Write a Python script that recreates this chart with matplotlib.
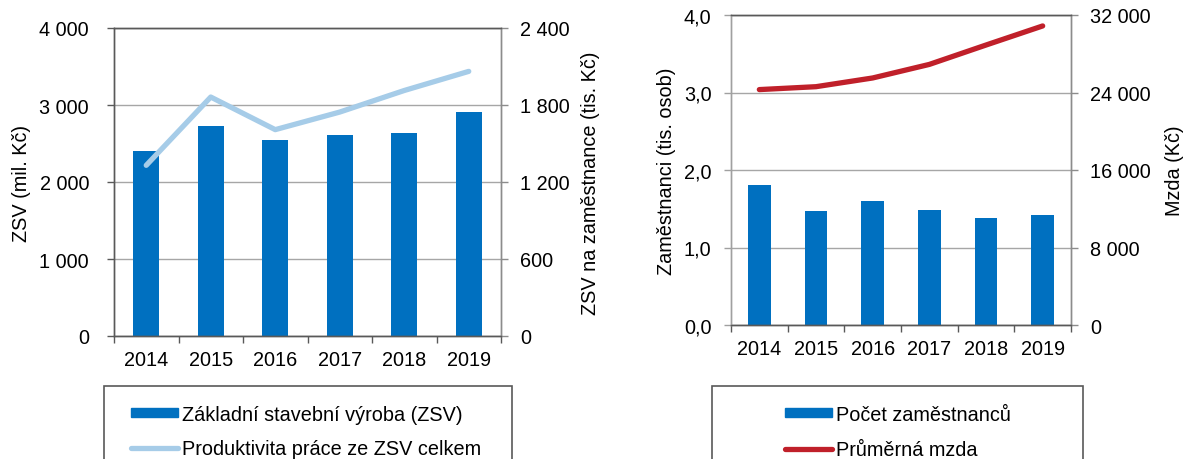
import matplotlib
matplotlib.use("Agg")
import matplotlib.pyplot as plt
from matplotlib.patches import Rectangle
from matplotlib.lines import Line2D
from matplotlib.ticker import FuncFormatter, FixedLocator
import numpy as np

plt.rcParams['font.family'] = ['Liberation Sans', 'DejaVu Sans']
plt.rcParams['font.size'] = 14.3

years = ['2014', '2015', '2016', '2017', '2018', '2019']
zsv = [2400, 2730, 2550, 2615, 2640, 2915]            # mil. Kč
produktivita = [1330, 1862, 1608, 1745, 1913, 2062]   # tis. Kč na zaměstnance
zamestnanci = [1.81, 1.47, 1.60, 1.49, 1.38, 1.42]     # tis. osob
mzda = [24300, 24600, 25500, 26900, 28900, 30870]     # Kč

BAR = '#0070C0'
LBLUE = '#A6CCE8'
RED = '#C0202A'
DARK = '#595959'
GRID = '#A6A6A6'
W, H = 1184, 460

fig = plt.figure(figsize=(W / 100, H / 100), dpi=100)


def thousands(v, pos=None):
    return f"{int(round(v)):,}".replace(',', ' ')


def comma1(v, pos=None):
    return f"{v:.1f}".replace('.', ',')


def style(ax, ax2, n, left_col, right_col, lpad, rpad):
    x = np.arange(n)
    ax.set_xlim(-0.5, n - 0.5)
    ax.xaxis.set_major_locator(FixedLocator(x))
    ax.set_xticklabels(years)
    ax.xaxis.set_minor_locator(FixedLocator(np.arange(n + 1) - 0.5))
    ax.tick_params(axis='x', which='major', length=0, pad=10)
    ax.tick_params(axis='x', which='minor', length=5, width=1, color=DARK, direction='out')
    ax.tick_params(axis='y', length=5, width=1, color=left_col, pad=lpad, direction='out')
    ax2.tick_params(axis='y', length=5, width=1, color=right_col, pad=rpad, direction='out')
    ax.grid(axis='y', color=GRID, lw=1)
    ax.set_axisbelow(True)
    for a in (ax, ax2):
        a.spines['top'].set_color(DARK)
        a.spines['bottom'].set_color(DARK)
        a.spines['left'].set_color(left_col)
        a.spines['right'].set_color(right_col)
        for s in a.spines.values():
            s.set_linewidth(1)


# ---------------- left chart ----------------
ax1 = fig.add_axes([114 / W, 1 - 337 / H, 387 / W, 308 / H])
ax1b = ax1.twinx()
x = np.arange(len(years))
ax1.bar(x, zsv, width=0.4, color=BAR, zorder=2)
ax1.set_ylim(0, 4000)
ax1.set_yticks([0, 1000, 2000, 3000, 4000])
ax1.yaxis.set_major_formatter(FuncFormatter(thousands))
ax1b.plot(x, produktivita, color=LBLUE, lw=3.8, solid_capstyle='round',
          solid_joinstyle='round', zorder=3)
ax1b.set_ylim(0, 2400)
ax1b.set_yticks([0, 600, 1200, 1800, 2400])
ax1b.yaxis.set_major_formatter(FuncFormatter(thousands))
style(ax1, ax1b, len(years), DARK, '#8C8C8C', 13, 9)
ax1.set_ylabel('ZSV (mil. Kč)', labelpad=6)
ax1b.set_ylabel('ZSV na zaměstnance (tis. Kč)', labelpad=8)

# ---------------- right chart ----------------
ax2 = fig.add_axes([731 / W, 1 - 326 / H, 340 / W, 310 / H])
ax2b = ax2.twinx()
ax2.bar(x, zamestnanci, width=0.4, color=BAR, zorder=2)
ax2.set_ylim(0, 4.0)
ax2.set_yticks([0, 1, 2, 3, 4])
ax2.yaxis.set_major_formatter(FuncFormatter(comma1))
ax2b.plot(x, mzda, color=RED, lw=3.8, solid_capstyle='round',
          solid_joinstyle='round', zorder=3)
ax2b.set_ylim(0, 32000)
ax2b.set_yticks([0, 8000, 16000, 24000, 32000])
ax2b.yaxis.set_major_formatter(FuncFormatter(thousands))
style(ax2, ax2b, len(years), '#A0A0A0', '#8C8C8C', 9, 9)
ax2.set_ylabel('Zaměstnanci (tis. osob)', labelpad=6)
ax2b.set_ylabel('Mzda (Kč)', labelpad=10)

# ---------------- legends ----------------
for (x0, x1) in [(104, 512), (712, 1083)]:
    fig.patches.append(Rectangle((x0 / W, -0.05), (x1 - x0) / W, 0.05 + 1 - 387 / H,
                                 transform=fig.transFigure, fill=False,
                                 edgecolor=DARK, lw=1.2))

h1 = [Rectangle((0, 0), 1, 1, color=BAR),
      Line2D([], [], color=LBLUE, lw=3.8, solid_capstyle='round')]
fig.legend(h1, ['Základní stavební výroba (ZSV)', 'Produktivita práce ze ZSV celkem'],
           loc='upper center', bbox_to_anchor=(306 / W, 1 - 396 / H), frameon=False,
           borderpad=0, handlelength=2.4, handleheight=0.35, handletextpad=0.2,
           labelspacing=0.75)
h2 = [Rectangle((0, 0), 1, 1, color=BAR),
      Line2D([], [], color=RED, lw=3.8, solid_capstyle='round')]
fig.legend(h2, ['Počet zaměstnanců', 'Průměrná mzda'],
           loc='upper center', bbox_to_anchor=(898 / W, 1 - 396 / H), frameon=False,
           borderpad=0, handlelength=2.4, handleheight=0.35, handletextpad=0.2,
           labelspacing=0.8)

fig.savefig('out.png', dpi=100)
